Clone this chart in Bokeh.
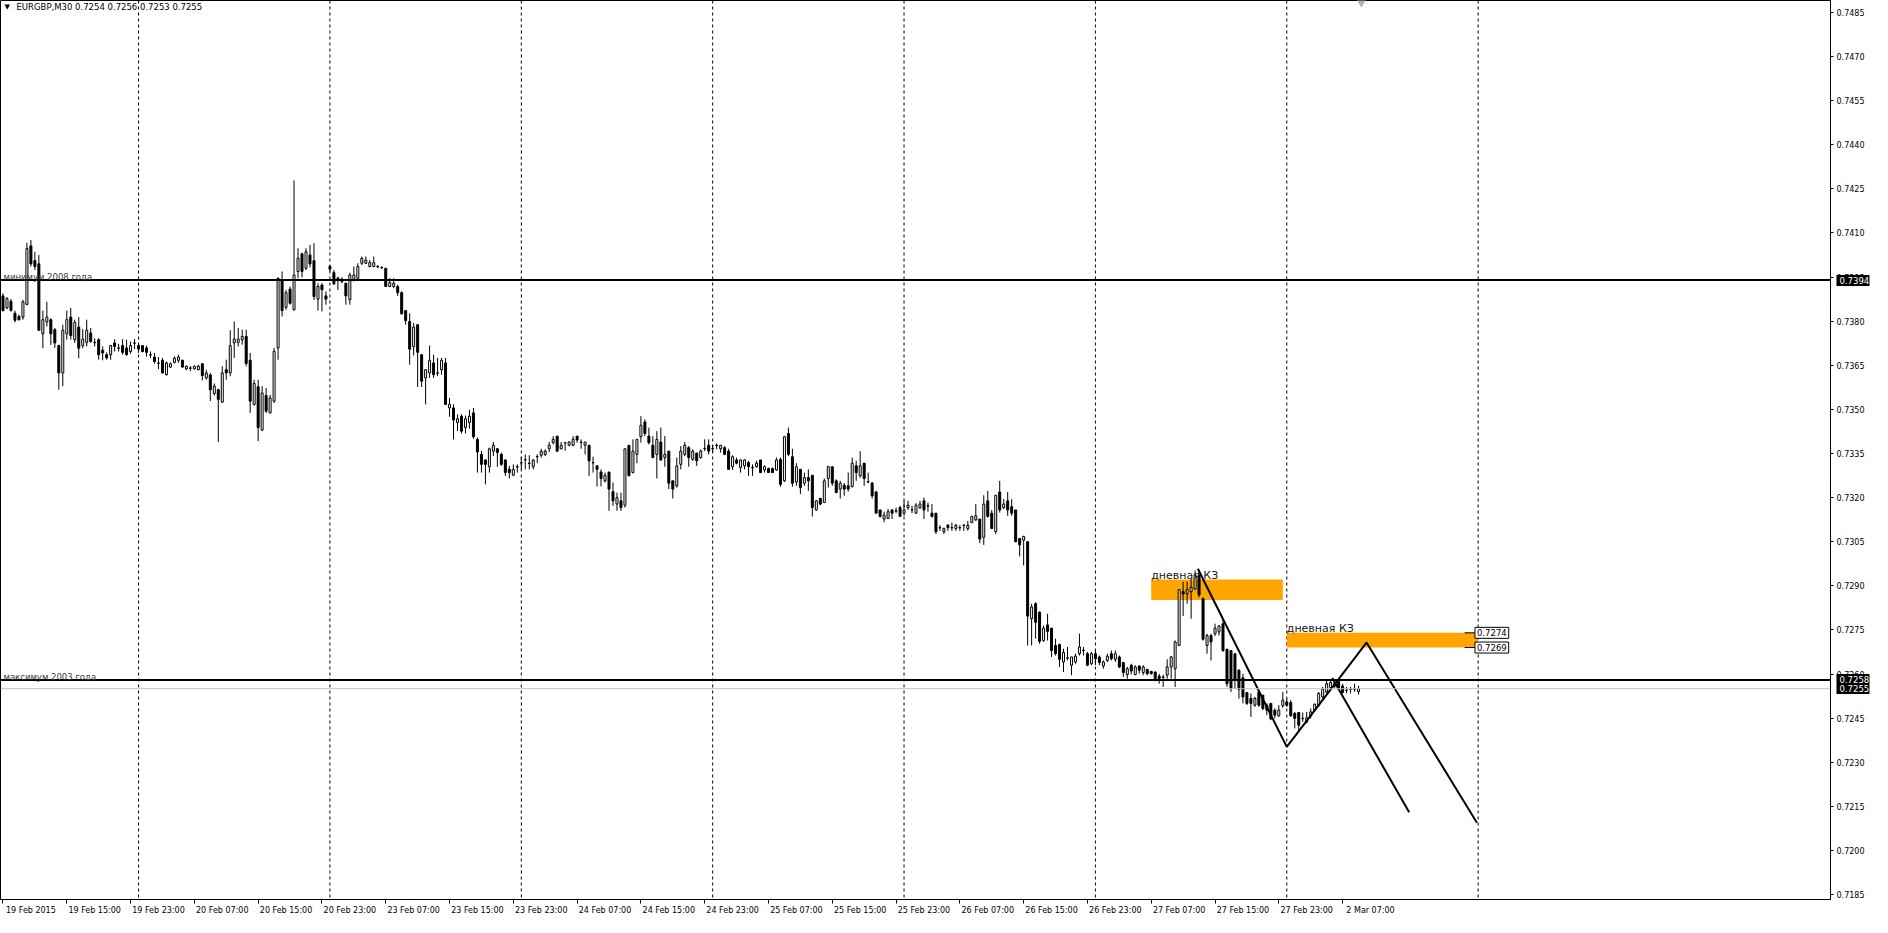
from bokeh.plotting import figure
from bokeh.models import ColumnDataSource, Range1d, FixedTicker, NumeralTickFormatter, Span, Label, LinearAxis
from bokeh.embed import file_html
from bokeh.resources import INLINE

# ---------------- data (EURGBP M30, prices in pips: 7388.6 -> 0.73886) ----------------
opens = [
    7388.6, 7384.5, 7386.8, 7382.7, 7381.6, 7381.4, 7385.7, 7405.6, 7400.6, 7399.5,
    7375.7, 7379.8, 7380.5, 7377.1, 7371.7, 7362.4, 7375.7, 7381.4, 7373.7, 7378.0,
    7371.7, 7372.8, 7376.0, 7372.8, 7373.7, 7370.1, 7368.6, 7368.6, 7372.6, 7370.9,
    7371.7, 7370.9, 7369.7, 7372.5, 7371.7, 7371.7, 7370.9, 7368.6, 7367.8, 7365.8,
    7366.7, 7361.8, 7364.4, 7366.0, 7366.7, 7366.7, 7363.8, 7364.1, 7363.8, 7363.5,
    7365.5, 7360.7, 7361.7, 7355.4, 7356.7, 7352.5, 7363.5, 7362.4, 7372.6, 7372.8,
    7373.7, 7374.8, 7366.7, 7351.7, 7357.7, 7343.0, 7354.7, 7348.8, 7352.8, 7370.9,
    7394.0, 7384.7, 7390.9, 7383.9, 7396.9, 7402.9, 7398.0, 7402.5, 7400.6, 7387.5,
    7392.3, 7388.6, 7398.6, 7396.5, 7394.6, 7393.5, 7392.9, 7387.3, 7394.0, 7394.6,
    7399.7, 7399.7, 7398.6, 7398.6, 7398.6, 7398.3, 7398.0, 7391.8, 7391.8, 7391.8,
    7389.7, 7383.6, 7379.9, 7371.4, 7378.8, 7368.6, 7360.7, 7362.4, 7365.8, 7362.4,
    7363.5, 7365.8, 7350.5, 7350.5, 7345.5, 7347.7, 7343.8, 7345.5, 7348.8, 7339.8,
    7334.7, 7332.8, 7330.5, 7335.8, 7336.6, 7334.7, 7332.8, 7329.6, 7327.6, 7330.5,
    7331.9, 7332.8, 7331.7, 7330.5, 7333.9, 7334.4, 7334.7, 7336.6, 7338.7, 7340.9,
    7336.6, 7338.6, 7337.8, 7337.8, 7340.9, 7338.9, 7337.8, 7337.8, 7331.9, 7330.8,
    7328.7, 7325.7, 7328.7, 7322.0, 7317.8, 7318.9, 7317.4, 7337.8, 7328.5, 7334.7,
    7340.7, 7345.7, 7340.9, 7337.8, 7334.7, 7338.9, 7333.6, 7335.8, 7325.7, 7324.0,
    7331.3, 7334.7, 7337.0, 7333.0, 7335.1, 7333.6, 7336.6, 7337.8, 7336.7, 7337.8,
    7336.6, 7337.0, 7335.8, 7330.5, 7332.8, 7330.2, 7330.8, 7331.9, 7330.2, 7330.5,
    7332.8, 7329.4, 7329.9, 7329.9, 7329.4, 7333.0, 7325.7, 7341.8, 7333.9, 7325.3,
    7329.6, 7324.9, 7326.8, 7327.6, 7315.8, 7319.7, 7318.3, 7326.5, 7330.5, 7325.7,
    7322.9, 7324.2, 7324.0, 7323.8, 7330.8, 7327.4, 7331.7, 7325.4, 7324.9, 7321.9,
    7315.8, 7312.7, 7312.9, 7315.8, 7315.5, 7316.6, 7314.7, 7316.6, 7315.9, 7314.7,
    7316.6, 7318.9, 7317.2, 7314.7, 7314.7, 7309.8, 7308.4, 7310.6, 7309.8, 7309.5,
    7309.8, 7310.6, 7309.5, 7311.5, 7312.4, 7312.7, 7306.5, 7318.9, 7314.7, 7308.4,
    7321.9, 7316.6, 7318.9, 7316.9, 7315.8, 7306.1, 7305.5, 7305.0, 7278.8, 7283.9,
    7281.0, 7271.4, 7276.7, 7275.6, 7269.7, 7270.0, 7264.1, 7265.5, 7263.0, 7264.1,
    7266.9, 7268.1, 7266.9, 7263.5, 7266.9, 7265.8, 7262.7, 7264.6, 7266.9, 7265.0,
    7265.8, 7263.9, 7259.8, 7263.0, 7259.8, 7262.7, 7260.5, 7261.6, 7260.9, 7260.7,
    7259.3, 7259.0, 7259.6, 7262.4, 7261.8, 7269.7, 7288.0, 7287.3, 7288.0, 7288.9,
    7293.5, 7285.6, 7269.7, 7273.1, 7273.7, 7274.3, 7277.1, 7268.4, 7268.0, 7266.9,
    7261.3, 7258.7, 7253.7, 7251.7, 7249.4, 7253.9, 7252.8, 7249.4, 7250.0, 7247.7,
    7245.8, 7249.2, 7250.5, 7250.3, 7246.6, 7246.9, 7244.9, 7243.7, 7245.8, 7247.7,
    7249.4, 7252.2, 7253.9, 7255.3, 7255.9, 7257.5, 7255.9, 7254.5, 7254.8, 7254.9,
    7254.0,
]
highs = [
    7389.5, 7388.2, 7387.5, 7383.6, 7382.2, 7387.2, 7406.7, 7407.6, 7403.6, 7402.5,
    7383.6, 7386.6, 7381.0, 7377.7, 7372.0, 7378.8, 7383.6, 7384.5, 7380.5, 7381.4,
    7377.3, 7380.5, 7377.7, 7374.2, 7374.2, 7371.4, 7369.4, 7371.9, 7373.9, 7372.3,
    7373.9, 7373.7, 7373.1, 7373.9, 7372.3, 7371.9, 7371.7, 7369.7, 7369.2, 7367.8,
    7367.5, 7366.3, 7366.0, 7368.0, 7368.6, 7366.9, 7364.9, 7364.7, 7364.9, 7365.2,
    7365.8, 7363.5, 7362.4, 7358.8, 7357.0, 7364.7, 7366.9, 7376.9, 7379.9, 7377.7,
    7377.1, 7377.1, 7369.2, 7360.1, 7360.1, 7357.9, 7357.3, 7355.0, 7370.9, 7394.9,
    7396.9, 7390.6, 7391.8, 7427.9, 7404.8, 7403.3, 7404.8, 7405.9, 7406.5, 7392.9,
    7392.9, 7390.1, 7399.1, 7397.4, 7395.2, 7394.9, 7393.1, 7396.5, 7398.6, 7399.7,
    7402.0, 7402.0, 7400.8, 7402.0, 7399.1, 7398.6, 7398.0, 7394.6, 7394.6, 7392.4,
    7390.1, 7383.6, 7382.7, 7379.4, 7378.8, 7368.6, 7363.5, 7371.7, 7368.6, 7367.5,
    7367.5, 7367.5, 7353.9, 7351.7, 7348.3, 7348.3, 7347.9, 7349.9, 7350.5, 7340.4,
    7335.9, 7333.0, 7337.0, 7338.9, 7336.9, 7335.3, 7333.0, 7330.8, 7331.3, 7331.3,
    7333.9, 7334.7, 7334.4, 7333.0, 7334.7, 7336.6, 7336.4, 7338.9, 7340.9, 7340.9,
    7338.9, 7338.9, 7339.2, 7340.9, 7340.9, 7339.8, 7338.9, 7337.8, 7333.9, 7330.8,
    7329.6, 7328.5, 7328.7, 7325.1, 7321.7, 7321.7, 7336.6, 7337.8, 7339.8, 7339.8,
    7347.7, 7346.6, 7343.8, 7340.9, 7342.6, 7343.8, 7340.9, 7335.8, 7325.7, 7333.6,
    7337.5, 7338.9, 7337.5, 7336.4, 7335.3, 7336.4, 7339.8, 7339.8, 7337.8, 7338.4,
    7337.8, 7337.5, 7336.6, 7334.4, 7333.6, 7333.0, 7333.0, 7332.5, 7331.3, 7332.5,
    7332.8, 7331.0, 7330.2, 7330.2, 7333.6, 7333.6, 7341.0, 7343.8, 7336.6, 7331.7,
    7329.6, 7328.5, 7329.6, 7327.6, 7319.2, 7320.0, 7326.5, 7330.8, 7330.5, 7326.2,
    7325.7, 7324.9, 7328.5, 7333.6, 7332.5, 7335.8, 7331.7, 7328.5, 7325.3, 7322.3,
    7315.8, 7315.2, 7316.1, 7316.1, 7316.6, 7317.2, 7318.9, 7318.9, 7317.2, 7318.1,
    7318.9, 7320.0, 7318.3, 7317.8, 7314.7, 7310.6, 7309.8, 7311.0, 7311.5, 7311.0,
    7310.6, 7311.0, 7312.1, 7313.8, 7317.8, 7312.7, 7320.8, 7322.3, 7315.8, 7320.8,
    7325.7, 7319.5, 7321.9, 7319.5, 7315.8, 7306.1, 7307.0, 7305.0, 7283.9, 7284.4,
    7281.3, 7276.5, 7280.5, 7275.6, 7272.0, 7270.3, 7268.6, 7269.2, 7265.8, 7266.9,
    7273.7, 7269.2, 7267.5, 7267.5, 7268.0, 7266.3, 7264.6, 7266.9, 7268.0, 7268.0,
    7266.3, 7263.9, 7262.4, 7263.5, 7263.0, 7263.0, 7263.0, 7261.6, 7260.9, 7260.7,
    7260.1, 7259.8, 7265.0, 7266.1, 7271.4, 7288.9, 7291.4, 7291.4, 7292.3, 7295.2,
    7295.5, 7286.1, 7273.7, 7273.7, 7277.1, 7276.7, 7278.6, 7268.6, 7268.0, 7266.9,
    7261.6, 7260.1, 7253.9, 7253.4, 7252.2, 7254.5, 7252.8, 7250.0, 7250.0, 7248.3,
    7249.4, 7253.9, 7251.7, 7251.1, 7247.1, 7247.1, 7246.9, 7247.1, 7248.3, 7250.0,
    7253.9, 7255.6, 7257.9, 7257.9, 7257.9, 7257.9, 7256.7, 7255.6, 7255.6, 7256.7,
    7256.0,
]
lows = [
    7383.3, 7384.1, 7383.3, 7379.6, 7380.2, 7380.5, 7385.4, 7398.6, 7397.4, 7376.9,
    7370.8, 7378.2, 7371.9, 7370.9, 7356.7, 7357.9, 7373.7, 7373.7, 7372.6, 7367.4,
    7370.8, 7371.4, 7372.6, 7371.4, 7366.9, 7366.7, 7366.9, 7366.9, 7369.7, 7369.7,
    7368.6, 7368.3, 7368.9, 7370.5, 7369.2, 7369.4, 7368.0, 7367.5, 7365.6, 7363.7,
    7362.2, 7361.5, 7364.1, 7365.6, 7365.8, 7364.1, 7363.3, 7363.0, 7363.5, 7363.3,
    7359.9, 7360.1, 7352.8, 7354.7, 7338.9, 7352.2, 7360.1, 7361.3, 7367.5, 7371.4,
    7372.0, 7364.7, 7348.8, 7351.3, 7339.2, 7342.6, 7348.8, 7348.6, 7352.2, 7366.9,
    7381.6, 7383.9, 7385.6, 7383.6, 7394.6, 7394.9, 7397.4, 7398.3, 7387.2, 7383.6,
    7383.3, 7385.6, 7396.9, 7392.3, 7390.6, 7392.9, 7385.6, 7385.6, 7393.5, 7394.3,
    7399.1, 7399.5, 7398.3, 7398.3, 7398.0, 7397.7, 7391.6, 7391.6, 7391.2, 7388.6,
    7382.3, 7378.8, 7365.2, 7368.3, 7357.6, 7357.6, 7351.7, 7360.7, 7360.7, 7361.3,
    7361.8, 7351.7, 7347.5, 7339.8, 7342.6, 7341.8, 7341.8, 7343.4, 7340.0, 7328.5,
    7328.5, 7324.5, 7328.5, 7334.1, 7330.5, 7330.8, 7327.4, 7326.5, 7327.4, 7328.5,
    7329.6, 7329.6, 7329.6, 7329.6, 7331.7, 7333.6, 7334.1, 7335.5, 7338.1, 7335.5,
    7336.4, 7335.9, 7337.5, 7337.5, 7338.7, 7336.6, 7334.7, 7327.4, 7328.5, 7323.8,
    7323.8, 7325.1, 7315.5, 7317.2, 7315.5, 7315.5, 7316.6, 7327.4, 7328.3, 7331.7,
    7338.7, 7340.9, 7338.1, 7333.6, 7326.5, 7332.5, 7330.5, 7322.9, 7319.7, 7323.4,
    7329.6, 7334.1, 7330.5, 7332.5, 7330.8, 7333.2, 7335.8, 7334.7, 7335.3, 7336.4,
    7335.3, 7334.4, 7329.6, 7329.4, 7331.3, 7328.5, 7329.6, 7327.4, 7327.4, 7330.2,
    7328.5, 7328.5, 7328.5, 7328.5, 7329.1, 7323.7, 7325.3, 7334.1, 7323.7, 7324.0,
    7321.2, 7324.0, 7322.3, 7313.6, 7315.5, 7317.4, 7318.3, 7323.4, 7324.0, 7321.5,
    7319.7, 7320.6, 7322.0, 7323.4, 7325.7, 7326.8, 7324.0, 7324.9, 7319.7, 7314.7,
    7313.2, 7311.6, 7312.7, 7312.7, 7314.7, 7313.6, 7313.8, 7315.8, 7314.7, 7314.4,
    7316.1, 7312.7, 7315.2, 7313.2, 7307.6, 7308.7, 7307.6, 7308.7, 7308.7, 7308.7,
    7308.7, 7308.7, 7308.7, 7311.3, 7312.1, 7304.5, 7303.9, 7313.2, 7309.3, 7307.6,
    7314.9, 7316.1, 7313.8, 7313.8, 7304.8, 7300.0, 7296.9, 7269.7, 7269.7, 7272.0,
    7270.3, 7270.9, 7271.4, 7265.8, 7266.3, 7262.4, 7260.7, 7264.6, 7259.6, 7263.5,
    7266.3, 7266.3, 7262.7, 7263.0, 7263.0, 7263.0, 7261.8, 7264.1, 7264.6, 7264.1,
    7262.0, 7259.0, 7258.4, 7259.8, 7259.6, 7260.1, 7259.6, 7259.6, 7259.8, 7257.5,
    7256.7, 7255.6, 7258.4, 7258.4, 7255.6, 7269.7, 7279.7, 7283.9, 7278.8, 7288.7,
    7286.1, 7271.4, 7266.9, 7264.6, 7272.9, 7273.1, 7267.5, 7255.6, 7253.9, 7255.0,
    7251.6, 7250.0, 7249.4, 7245.4, 7248.8, 7248.8, 7247.7, 7246.0, 7244.3, 7244.9,
    7245.4, 7248.5, 7248.8, 7245.4, 7241.5, 7240.4, 7243.7, 7243.2, 7244.9, 7247.1,
    7248.8, 7251.6, 7253.4, 7254.8, 7255.3, 7254.8, 7253.4, 7253.4, 7253.4, 7254.0,
    7253.0,
]
closes = [
    7383.6, 7387.7, 7383.6, 7380.3, 7380.5, 7386.6, 7404.7, 7399.5, 7398.6, 7376.9,
    7380.5, 7381.4, 7375.7, 7372.6, 7362.4, 7376.9, 7380.5, 7375.1, 7379.6, 7370.8,
    7373.9, 7376.9, 7373.1, 7372.7, 7368.6, 7369.2, 7367.5, 7371.7, 7371.4, 7370.8,
    7369.4, 7368.6, 7371.7, 7372.6, 7370.5, 7369.7, 7369.4, 7368.5, 7366.3, 7365.7,
    7362.4, 7365.8, 7365.5, 7367.4, 7367.8, 7364.4, 7364.7, 7364.0, 7364.7, 7364.7,
    7361.5, 7362.4, 7356.7, 7357.9, 7353.4, 7362.4, 7362.4, 7371.7, 7373.9, 7373.9,
    7374.8, 7365.6, 7352.8, 7358.8, 7343.8, 7355.6, 7349.4, 7353.9, 7369.7, 7394.6,
    7383.6, 7389.7, 7386.1, 7395.7, 7401.4, 7396.9, 7403.6, 7399.5, 7388.4, 7391.8,
    7390.7, 7387.5, 7397.7, 7392.7, 7393.8, 7394.3, 7388.6, 7395.7, 7395.7, 7398.6,
    7401.4, 7400.8, 7399.9, 7399.9, 7398.5, 7398.2, 7391.8, 7393.1, 7392.9, 7389.7,
    7382.5, 7380.2, 7370.5, 7378.0, 7369.4, 7359.6, 7363.5, 7366.7, 7361.8, 7362.3,
    7366.7, 7351.7, 7351.7, 7346.4, 7346.8, 7342.6, 7346.8, 7347.7, 7340.7, 7335.5,
    7331.3, 7331.3, 7336.6, 7337.8, 7335.3, 7331.3, 7328.5, 7328.5, 7329.6, 7330.4,
    7331.8, 7332.9, 7331.6, 7332.8, 7334.0, 7335.8, 7335.8, 7337.8, 7339.8, 7335.8,
    7337.8, 7338.7, 7338.9, 7339.8, 7339.6, 7338.8, 7338.9, 7332.5, 7331.8, 7329.6,
    7326.5, 7327.6, 7322.9, 7318.9, 7320.0, 7316.6, 7336.6, 7327.4, 7335.8, 7339.8,
    7344.6, 7341.8, 7338.7, 7333.6, 7339.8, 7332.8, 7334.7, 7324.9, 7322.9, 7330.8,
    7335.8, 7337.8, 7333.6, 7335.8, 7332.5, 7335.8, 7336.7, 7335.8, 7336.6, 7337.7,
    7337.8, 7334.7, 7329.6, 7333.9, 7331.7, 7332.8, 7332.8, 7330.5, 7330.1, 7331.7,
    7328.5, 7330.5, 7328.5, 7328.5, 7332.8, 7324.5, 7340.7, 7334.7, 7324.9, 7330.5,
    7323.4, 7326.8, 7325.7, 7316.6, 7318.9, 7317.8, 7325.7, 7330.5, 7324.9, 7321.7,
    7324.9, 7322.9, 7322.9, 7331.7, 7328.5, 7330.8, 7326.5, 7325.3, 7320.6, 7314.7,
    7313.6, 7314.0, 7315.2, 7314.7, 7315.4, 7313.6, 7315.8, 7317.4, 7315.8, 7317.4,
    7317.8, 7315.8, 7317.1, 7313.6, 7308.4, 7309.7, 7309.5, 7309.8, 7309.7, 7310.6,
    7309.7, 7310.5, 7310.6, 7313.6, 7313.8, 7305.9, 7317.8, 7313.6, 7309.5, 7320.8,
    7315.8, 7317.8, 7315.8, 7314.7, 7305.0, 7303.9, 7306.8, 7279.7, 7282.8, 7277.6,
    7271.1, 7275.6, 7274.5, 7268.0, 7266.9, 7265.0, 7267.3, 7265.4, 7265.8, 7266.1,
    7269.2, 7268.0, 7263.0, 7266.9, 7265.2, 7263.9, 7264.1, 7266.1, 7265.2, 7266.9,
    7262.4, 7260.5, 7261.8, 7261.0, 7262.4, 7261.3, 7262.4, 7260.1, 7260.1, 7258.4,
    7258.4, 7258.9, 7262.4, 7265.8, 7270.9, 7288.7, 7287.2, 7288.7, 7289.5, 7293.7,
    7286.9, 7271.8, 7273.1, 7270.9, 7275.6, 7276.3, 7268.0, 7256.7, 7255.0, 7257.9,
    7254.8, 7252.2, 7250.0, 7250.0, 7251.7, 7249.4, 7248.3, 7247.7, 7244.7, 7246.0,
    7247.7, 7251.1, 7249.4, 7245.8, 7244.9, 7242.6, 7244.8, 7245.1, 7247.1, 7249.7,
    7253.4, 7254.8, 7256.7, 7257.1, 7256.9, 7255.3, 7253.7, 7254.4, 7254.9, 7254.8,
    7255.0,
]

# time axis: bar index of each tick, and its label
tick_bars = [0, 16, 32, 48, 64, 80, 96, 112, 128, 144, 160, 176, 192, 208, 224,
             240, 256, 272, 288, 304, 320, 336]
tick_labels = ["19 Feb 2015", "19 Feb 15:00", "19 Feb 23:00", "20 Feb 07:00", "20 Feb 15:00",
               "20 Feb 23:00", "23 Feb 07:00", "23 Feb 15:00", "23 Feb 23:00", "24 Feb 07:00",
               "24 Feb 15:00", "24 Feb 23:00", "25 Feb 07:00", "25 Feb 15:00", "25 Feb 23:00",
               "26 Feb 07:00", "26 Feb 15:00", "26 Feb 23:00", "27 Feb 07:00", "27 Feb 15:00",
               "27 Feb 23:00", "2 Mar 07:00"]
day_start_bars = [34, 82, 130, 178, 226, 274, 322, 370]
price_ticks = [0.7185, 0.7200, 0.7215, 0.7230, 0.7245, 0.7260, 0.7275, 0.7290, 0.7305,
               0.7320, 0.7335, 0.7350, 0.7365, 0.7380, 0.7395, 0.7410, 0.7425, 0.7440,
               0.7455, 0.7470, 0.7485]

# horizontal levels
level_prices = [0.7394, 0.7258]
level_names = ["минимум 2008 года", "максимум 2003 года"]
bid_price = 0.7255
tag_prices = [0.7394, 0.7258, 0.7255]
shift_marker_bar = 340.7

# "дневная КЗ" zones (bar from, bar to, low, high)
zone_left = [288, 322]
zone_right = [321, 370]
zone_low = [0.72852, 0.7269]
zone_high = [0.72921, 0.7274]
zone_text = ["дневная КЗ", "дневная КЗ"]

# drawn trend lines (bars, prices)
trend_xs = [[299.7, 322.0], [322.0, 342.0, 369.7], [333.4, 352.7]]
trend_ys = [[0.72958, 0.72352], [0.72352, 0.72707, 0.72094], [0.72586, 0.72130]]

title_text = "EURGBP,M30  0.7254 0.7256 0.7253 0.7255"

# ---------------- build ----------------
n = len(opens)
assert len(highs) == n and len(lows) == n and len(closes) == n
S = 10000.0
bars = list(range(n))
o = [v / S for v in opens]
h = [v / S for v in highs]
l = [v / S for v in lows]
c = [v / S for v in closes]
src = ColumnDataSource(dict(
    x=bars, o=o, h=h, l=l, c=c,
    top=[max(a, b) for a, b in zip(o, c)],
    bottom=[min(a, b) for a, b in zip(o, c)],
    fill=["white" if cc >= oo else "black" for oo, cc in zip(o, c)],
))

W, H = 1872, 917
RB, BB = 36, 17
FW, FH = W - RB, H - BB
PX_PER_BAR = 4.0
X0 = -0.625
X1 = X0 + FW / PX_PER_BAR
Y1 = 0.7485 + 12 / 29500.0
Y0 = 0.7485 - 890 / 29500.0
FONT = "DejaVu Sans"

p = figure(width=W, height=H, x_range=Range1d(X0, X1), y_range=Range1d(Y0, Y1),
           output_backend="svg", toolbar_location=None,
           x_axis_location="below", y_axis_location="right",
           min_border_left=0, min_border_top=0, min_border_right=RB, min_border_bottom=BB)
p.grid.visible = False
p.outline_line_color = "black"
p.outline_line_width = 1
p.background_fill_color = "white"
p.border_fill_color = "white"

SHIFT = 7  # labels start at their tick (MT4 style)
xa = p.xaxis[0]
xa.ticker = FixedTicker(ticks=[t + SHIFT for t in tick_bars], minor_ticks=tick_bars)
xa.major_label_overrides = {t + SHIFT: lab for t, lab in zip(tick_bars, tick_labels)}
xa.major_tick_out = 0
xa.major_tick_in = 0
xa.minor_tick_out = 4
xa.minor_tick_in = 0
xa.minor_tick_line_color = "black"
xa.major_label_standoff = 2
xa.major_label_text_font = FONT
xa.major_label_text_font_size = "8px"
xa.major_label_text_color = "black"
xa.axis_line_color = "black"

ya = p.yaxis[0]
ya.ticker = FixedTicker(ticks=price_ticks)
ya.formatter = NumeralTickFormatter(format="0.0000")
ya.major_tick_out = 3
ya.major_tick_in = 0
ya.minor_tick_out = 0
ya.minor_tick_in = 0
ya.major_tick_line_color = "black"
ya.major_label_standoff = 3
ya.major_label_text_font = FONT
ya.major_label_text_font_size = "8px"
ya.major_label_text_color = "black"
ya.axis_line_color = "black"

# price tags on the scale: second right axis whose thick ticks form black boxes
tag_axis = LinearAxis(ticker=FixedTicker(ticks=tag_prices),
                      formatter=NumeralTickFormatter(format="0.0000"),
                      axis_line_color=None,
                      major_tick_in=31, major_tick_out=2, major_tick_line_width=11,
                      major_tick_line_color="black",
                      minor_tick_in=0, minor_tick_out=0,
                      major_label_standoff=-30,
                      major_label_text_font=FONT, major_label_text_font_size="8.5px",
                      major_label_text_color="white")
p.add_layout(tag_axis, "right")

# day separators
for b in day_start_bars:
    p.add_layout(Span(location=b, dimension="height", line_color="black", line_width=1,
                      line_dash="3 3", level="underlay"))

# zones
p.quad(left=zone_left, right=zone_right, bottom=zone_low, top=zone_high,
       fill_color="#FFA500", line_color=None)

# candles
p.segment(x0="x", y0="l", x1="x", y1="h", source=src, line_color="black", line_width=1)
p.vbar(x="x", width=0.5, top="top", bottom="bottom", source=src,
       fill_color="fill", line_color="black", line_width=1)

# trend lines
p.multi_line(xs=trend_xs, ys=trend_ys, line_color="black", line_width=2)

# horizontal levels
for lv in level_prices:
    p.add_layout(Span(location=lv, dimension="width", line_color="black", line_width=2))
p.add_layout(Span(location=bid_price, dimension="width", line_color="#C0C0C0", line_width=1))

for lv, name in zip(level_prices, level_names):
    p.add_layout(Label(x=X0, y=lv, x_offset=3, y_offset=3, text=name,
                       text_font=FONT, text_font_size="8.5px", text_color="#2f3a46",
                       text_baseline="alphabetic", text_align="left"))

# zone captions and price boxes
for zl, zh, zt in zip(zone_left, zone_high, zone_text):
    p.add_layout(Label(x=zl, y=zh, y_offset=4, text=zt, text_font=FONT,
                       text_font_size="11px", text_color="#202020",
                       text_baseline="alphabetic", text_align="left"))
zr = zone_right[1]
p.segment(x0=[zr - 3.4, zr - 3.4], y0=[zone_high[1], zone_low[1]],
          x1=[zr - 0.8, zr - 0.8], y1=[zone_high[1], zone_low[1]], line_color="black", line_width=1)
for pr in (zone_high[1], zone_low[1]):
    p.add_layout(Label(x=zr - 0.8, y=pr, text=f"{pr:.4f}", text_font=FONT,
                       text_font_size="8.5px", text_color="black",
                       text_baseline="middle", text_align="left",
                       background_fill_color="white", border_line_color="black",
                       border_line_width=1, padding=2))

# chart shift marker at the top edge
p.scatter(x=[shift_marker_bar], y=[Y1], marker="inverted_triangle", size=11,
          fill_color="#B0B0B0", line_color="#B0B0B0")

# title
p.add_layout(Label(x=X0, y=Y1, x_offset=4, y_offset=-6, text="▼", text_font=FONT,
                   text_font_size="7px", text_color="black", text_baseline="middle"))
p.add_layout(Label(x=X0, y=Y1, x_offset=16, y_offset=-6, text=title_text, text_font=FONT,
                   text_font_size="8.5px", text_color="black", text_baseline="middle"))

open("out.html", "w").write(file_html(p, INLINE))
